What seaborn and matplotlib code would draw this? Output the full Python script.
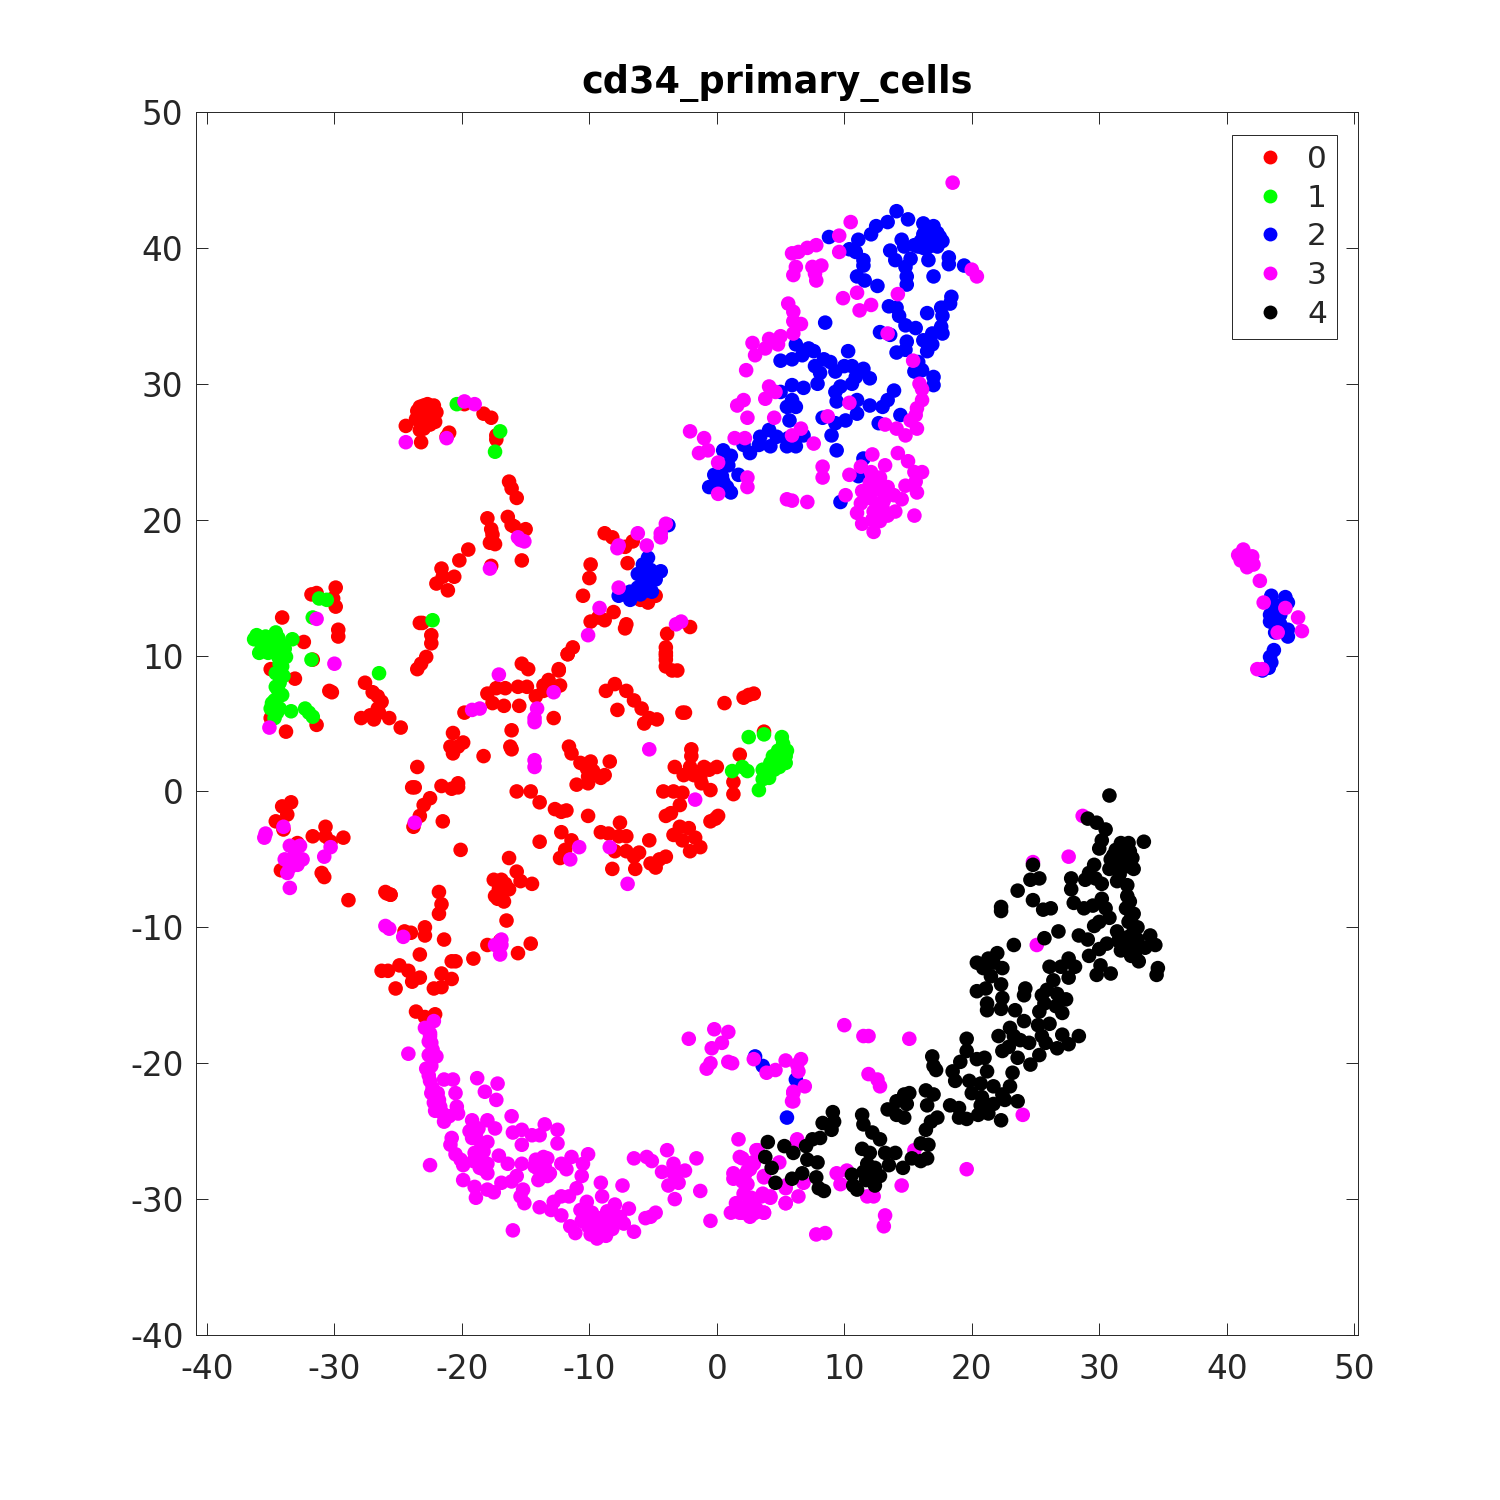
import pandas as pd
import matplotlib
matplotlib.use("Agg")
import matplotlib.pyplot as plt
import seaborn as sns

TITLE = "cd34_primary_cells"
X_TICKS = [-40, -30, -20, -10, 0, 10, 20, 30, 40, 50]
Y_TICKS = [-40, -30, -20, -10, 0, 10, 20, 30, 40, 50]
CLUSTER_COLORS = {"0": "#ff0000", "1": "#00ff00", "2": "#0000ff", "3": "#ff00ff", "4": "#000000"}

cluster_0 = [
    (-22.9,27.8),(-23.3,27.6),(-22.5,28.2),(-23.0,28.4),(-22.4,27.5),(-23.5,28.0),(-22.7,27.0),(-23.2,27.1),
    (-22.0,27.9),(-22.2,28.4),(-23.0,26.7),(-24.4,26.9),(-23.3,26.6),(-23.2,25.7),(-22.5,27.0),(-21.0,26.4),
    (-22.7,28.5),(-23.3,28.3),(-22.8,27.4),(-22.3,28.0),(-23.6,27.4),(-22.1,27.2),(-23.1,28.0),(-22.6,27.7),
    (-21.2,26.1),(-19.8,28.5),(-18.3,27.8),(-17.7,27.5),(-17.3,26.2),(-17.3,25.9),
    (-16.3,22.8),(-16.1,22.3),(-15.7,21.6),(-18.0,20.1),(-16.4,20.2),(-16.1,19.6),(-15.9,19.5),(-15.0,19.3),
    (-17.7,19.3),(-17.6,18.9),(-17.8,18.3),(-17.4,18.2),(-19.5,17.8),(-20.2,17.0),(-15.3,17.0),(-17.7,16.6),
    (-21.6,16.4),(-21.5,15.8),(-20.6,15.8),(-22.0,15.3),(-21.1,14.8),(-9.9,16.7),(-10.0,15.7),(-10.5,14.4),
    (-29.9,15.0),(-31.8,14.5),(-31.4,14.6),(-30.1,14.2),(-29.9,13.6),(-34.1,12.8),(-29.7,11.9),(-29.7,11.4),
    (-32.4,11.0),(-31.7,9.7),(-35.0,9.0),(-33.1,8.3),(-30.4,7.4),(-30.2,7.3),(-27.6,8.0),(-27.0,7.3),
    (-26.6,7.0),(-26.3,6.6),(-26.6,6.1),(-27.2,5.6),(-27.9,5.4),(-26.9,5.3),(-26.5,5.8),(-25.7,5.4),
    (-24.8,4.7),(-33.8,4.4),(-31.4,4.9),(-35.0,5.4),(-23.3,12.4),(-23.1,12.4),(-22.4,11.5),(-22.4,10.9),
    (-22.8,9.9),(-23.2,9.4),(-23.5,9.0),
    (-15.3,9.4),(-14.8,9.0),(-12.4,9.0),(-11.7,10.1),(-13.2,8.2),(-13.6,7.8),(-12.3,7.8),(-13.6,7.4),
    (-16.6,7.6),(-17.3,7.6),(-18.0,7.2),(-17.6,6.5),(-15.6,7.7),(-14.9,7.7),(-14.2,7.0),(-16.7,6.3),
    (-15.5,6.3),(-19.8,5.8),(-12.8,5.4),(-16.1,4.5),(-20.7,4.3),(-19.9,3.6),(-20.9,3.3),(-20.3,3.3),
    (-20.7,2.8),(-18.3,2.6),(-16.2,3.3),(-16.1,3.1),(-23.5,1.8),(-23.9,0.3),(-23.7,0.3),(-21.6,0.4),
    (-20.8,0.2),(-20.3,0.6),(-20.3,0.3),(-22.5,-0.5),(-23.0,-1.0),(-23.3,-1.8),(-23.8,-2.6),(-21.5,-2.2),
    (-20.1,-4.3),(-15.7,0.0),(-14.6,0.0),(-13.9,-0.8),(-12.7,-1.3),(-12.2,-1.5),(-11.8,-1.4),(-10.1,-1.8),
    (-11.6,3.3),(-11.4,2.8),(-10.7,2.1),(-9.9,2.2),(-10.2,1.7),(-9.7,1.5),(-8.4,2.2),(-10.1,1.1),
    (-11.0,0.5),(-10.1,0.6),(-9.1,1.0),(-8.8,1.2),(-8.7,7.4),(-8.0,7.9),(-7.1,7.4),(-6.5,6.7),
    (-5.9,6.1),(-7.8,6.0),(-5.7,5.0),(-5.3,5.4),(-4.7,5.3),(-2.7,5.8),(-2.5,5.8),(0.6,6.5),
    (2.1,6.9),(2.9,7.2),(2.5,7.1),(-4.0,10.2),(-4.0,9.2),(-3.1,8.9),(-4.0,9.7),(3.7,4.4),
    (-2.0,3.1),(-2.0,2.6),(-3.3,1.8),(-2.1,1.8),(-1.0,1.8),(0.0,1.8),(-2.6,1.2),(-1.8,1.2),
    (-1.3,1.0),(-0.6,1.6),(1.8,2.7),(1.3,0.7),(1.3,-0.2),(-0.5,0.1),(-1.2,0.6),(-4.2,0.0),
    (-3.4,0.0),(-2.7,-0.1),(-2.9,-1.0),(-3.6,-1.6),(-4.0,-1.8),(0.1,-1.8),(-0.5,-2.2),(-0.1,-2.0),
    (-2.9,-2.6),(-2.2,-2.7),(-3.4,-3.2),(-2.7,-3.6),(-1.7,-3.4),(-1.3,-4.1),(-2.1,-4.4),(-7.6,-2.3),
    (-9.1,-3.0),(-8.5,-3.1),(-7.7,-3.3),(-7.1,-3.3),(-5.3,-3.6),(-12.2,-3.0),(-11.4,-3.6),(-13.9,-3.7),
    (-11.9,-4.3),(-12.3,-4.9),(-8.0,-4.4),(-7.1,-4.4),(-6.1,-4.5),(-6.5,-4.8),(-6.4,-5.7),(-8.2,-5.7),
    (-5.2,-5.3),(-4.8,-5.6),(-4.0,-4.8),(-4.5,-5.0),(-16.3,-4.9),(-15.7,-5.9),(-15.4,-6.6),(-14.5,-6.8),
    (-17.5,-6.5),(-16.9,-6.5),(-16.3,-7.2),(-17.4,-7.7),(-16.7,-8.1),(-17.1,-7.2),(-16.5,-9.5),(-18.0,-11.3),
    (-16.8,-7.4),(-17.0,-6.9),(-16.6,-6.8),(-17.2,-7.9),
    (-17.0,-11.0),(-15.6,-11.9),(-14.6,-11.2),(-19.1,-12.3),(-20.8,-12.5),(-20.5,-12.5),(-21.8,-7.4),(-21.6,-8.3),
    (-21.8,-9.0),(-25.9,-7.5),(-25.6,-7.6),(-22.9,-10.0),(-22.9,-10.6),(-24.5,-10.3),(-24.0,-10.4),(-21.4,-10.9),
    (-23.3,-12.0),(-25.8,-13.2),(-24.9,-12.8),(-24.2,-13.2),(-23.3,-13.7),(-23.9,-14.0),(-25.2,-14.5),(-21.6,-13.4),
    (-20.8,-13.8),(-22.2,-14.5),(-21.6,-14.4),(-23.6,-16.2),(-22.9,-16.6),(-22.1,-16.4),(-26.3,-13.2),
    (-33.4,-0.8),(-34.1,-1.1),(-33.7,-1.7),(-34.6,-2.2),(-34.0,-2.8),(-32.9,-3.8),(-31.7,-3.3),(-30.7,-2.6),
    (-30.7,-3.3),(-29.3,-3.4),(-30.3,-3.7),(-34.2,-5.8),(-31.0,-6.0),(-30.8,-6.3),(-28.9,-8.0),(-26.0,-7.4),(-25.6,-7.6),
    (-8.8,19.0),(-8.2,18.7),(-7.2,18.0),(-6.6,18.4),(-7.0,16.8),(-8.1,13.2),(-9.3,12.8),(-9.9,12.5),
    (-8.8,12.6),(-7.1,12.3),(-7.2,12.0),(-11.3,10.6),(-11.7,10.1),(-12.4,8.9),(-3.9,11.6),(-4.0,10.6),
    (-4.0,10.0),(-3.5,8.9),(-2.1,12.1),(-6.0,14.1),(-5.4,13.9),(-4.8,14.4),
]
cluster_1 = [
    (-20.4,28.5),(-17.0,26.5),(-17.4,25.0),(-31.2,14.2),(-30.6,14.1),(-31.7,12.8),(-31.8,9.7),(-22.3,12.6),
    (-26.5,8.7),(-36.3,11.2),(-36.1,11.5),(-35.9,10.2),(-35.4,11.4),(-34.6,11.7),(-34.3,10.9),(-35.0,10.7),
    (-33.8,9.9),(-34.4,9.9),(-33.3,11.2),(-34.1,9.2),(-34.6,8.7),(-34.3,8.0),(-34.4,7.4),(-34.1,7.1),
    (-34.7,6.7),(-35.0,6.1),(-34.3,6.1),(-34.7,5.4),(-33.4,5.9),(-32.3,6.1),(-32.0,5.8),(-31.7,5.5),
    (-35.2,10.2),(-34.7,10.4),(-33.9,10.5),(-34.4,11.3),(-34.8,11.0),(-34.3,9.4),(-34.0,8.5),(-34.6,7.7),
    (-34.9,6.5),(-34.5,5.8),(-35.8,11.0),(-35.5,10.8),
    (2.5,4.0),(3.7,4.2),(5.1,4.0),(1.2,1.5),(2.0,1.8),(2.4,1.5),(3.3,0.1),(3.6,0.9),
    (4.1,1.0),(3.6,1.6),(4.2,2.1),(4.7,2.6),(5.1,3.1),(5.4,2.6),(4.9,1.8),(5.4,2.1),(4.5,1.6),(5.5,3.0),
    (4.4,2.6),(4.9,2.4),(5.2,3.5),(4.8,3.0),(3.9,1.4),(4.3,1.9),
]
cluster_2 = [
    (14.1,42.7),(15.0,42.1),(13.4,41.9),(12.5,41.6),(12.1,41.0),(11.1,40.6),(8.8,40.8),(16.2,41.8),
    (17.0,41.6),(16.5,41.1),(17.3,41.1),(16.0,40.5),(16.8,40.6),(17.7,40.5),(15.5,40.2),(14.5,40.6),
    (16.6,41.5),(17.1,40.9),(16.2,41.0),(16.9,40.2),(16.2,40.0),(17.5,40.8),(15.8,40.1),
    (14.7,40.1),(13.6,39.8),(16.5,40.0),(17.3,40.1),(18.2,39.3),(18.2,38.8),(16.6,39.1),(14.0,39.1),
    (15.2,39.2),(14.8,38.6),(14.9,37.9),(14.9,37.3),(17.0,37.9),(19.4,38.7),(10.4,39.9),(10.9,39.7),
    (11.5,39.1),(11.5,38.7),(11.0,37.9),(11.6,37.6),(12.6,37.2),(18.4,36.4),(18.3,35.9),(17.6,35.6),
    (17.7,35.0),(16.5,35.2),(13.5,35.7),(14.1,35.6),(14.3,35.0),(14.8,34.3),(15.6,34.1),(17.6,34.2),
    (17.7,33.7),(16.9,33.7),(16.2,33.2),(16.9,32.9),(16.5,32.4),(14.9,33.1),(14.8,32.5),(14.1,32.3),
    (12.8,33.8),(13.6,33.6),(8.5,34.5),(15.8,31.6),(16.1,31.0),(15.5,30.9),(17.0,30.5),(17.0,29.9),
    (6.2,32.9),(7.2,32.6),(7.6,32.4),(5.9,31.8),(5.0,31.7),(6.7,32.1),(10.3,32.4),(8.4,31.8),
    (7.7,31.3),(8.9,31.6),(8.1,30.8),(9.3,30.9),(10.0,31.3),(10.6,31.3),(11.5,31.1),(12.0,30.4),
    (10.9,30.5),(10.6,30.0),(7.9,30.0),(6.8,29.7),(5.9,29.9),(5.0,29.4),(9.7,29.8),(9.3,29.4),
    (9.4,28.7),(13.9,29.5),(13.4,28.8),(13.0,28.3),(5.9,28.8),(5.5,28.3),(6.2,28.3),(11.0,28.8),
    (12.0,28.4),(11.0,27.8),(14.4,27.7),(12.7,27.1),(5.7,27.3),(8.3,27.5),(9.3,27.1),(10.1,27.3),
    (9.0,26.2),(9.4,25.1),(4.1,26.6),(3.4,26.1),(4.7,26.1),(4.2,25.4),(2.6,24.9),(2.1,25.5),
    (3.3,25.5),(5.5,25.4),(6.2,25.4),(6.8,26.2),(5.6,26.0),(11.5,24.5),(11.1,23.2),(9.7,21.3),
    (0.5,25.1),(1.1,24.7),(0.9,24.0),(1.7,23.3),(-0.2,23.3),(0.4,23.2),(-0.6,22.4),(0.8,22.4),
    (0.5,22.8),(1.1,22.0),(0.0,22.3),
    (-3.8,19.6),(-7.7,14.4),(-6.8,14.1),(-5.4,17.2),(-5.8,16.7),(-5.2,16.3),(-4.4,16.2),(-6.2,16.0),
    (-5.6,15.6),(-4.8,15.6),(-6.2,15.0),(-5.5,14.8),(-5.1,14.7),(-6.8,14.7),(-6.0,14.5),
    (43.5,14.4),(44.6,14.3),(43.8,13.7),(44.8,13.9),(43.4,13.0),(44.2,13.0),(43.4,12.5),(44.2,12.3),
    (44.8,11.9),(44.8,11.4),(43.8,11.7),(43.7,10.4),(43.4,9.9),(43.5,9.5),(43.3,9.1),(42.8,8.9),
    (3.0,-19.5),(3.6,-20.2),(6.2,-21.2),(5.5,-24.0),
]
cluster_3 = [
    (-24.4,25.7),(-21.2,26.0),(-19.8,28.7),(-19.0,28.5),(-17.8,16.4),(-15.6,18.7),(-15.1,18.4),(-15.4,18.5),
    (-31.4,12.7),(-30.0,9.4),(-35.1,4.7),(-17.1,8.6),(-19.2,6.0),(-18.6,6.1),(-12.8,7.3),(-14.1,6.1),
    (-14.3,5.4),(-14.3,5.1),(-14.3,2.3),(-14.3,1.8),(-5.3,3.1),(-1.7,-0.6),(-23.7,-2.3),(-10.8,-4.1),
    (-11.5,-5.0),(-8.4,-4.1),(-7.0,-6.8),(-26.0,-9.9),(-25.7,-10.1),(-24.6,-10.7),(-17.4,-11.3),(-16.9,-11.3),
    (-17.0,-12.0),(-16.9,-10.9),
    (-35.4,-3.1),(-35.5,-3.4),(-34.0,-2.6),(-33.5,-4.0),(-32.7,-4.0),(-33.1,-4.7),(-33.9,-5.0),(-32.5,-5.0),
    (-33.5,-5.6),(-32.9,-5.4),(-33.7,-6.0),(-33.5,-7.1),(-30.8,-4.8),(-30.3,-4.1),
    (-6.2,19.0),(-7.7,18.1),(-7.8,17.9),(-5.5,18.1),(-4.4,18.7),(-4.0,19.7),(-4.4,19.0),(-7.7,15.0),
    (-9.2,13.5),(-10.1,11.5),(-3.2,12.3),(-2.8,12.5),
    (18.5,44.8),(10.5,41.9),(9.6,40.9),(9.6,39.7),(5.9,39.6),(6.4,39.7),(7.1,40.0),(7.8,40.2),
    (6.2,38.6),(6.0,38.0),(7.5,38.6),(8.2,38.7),(7.8,37.6),(7.7,38.1),(20.0,38.4),(20.4,37.9),
    (14.2,36.6),(11.0,36.7),(9.9,36.3),(12.1,35.8),(11.2,35.4),(5.6,35.9),(6.0,35.3),(6.6,34.4),
    (6.0,34.6),(6.0,33.7),(5.0,33.5),(4.1,33.3),(4.8,32.9),(2.8,33.0),(3.8,32.6),(3.0,32.1),
    (2.3,31.0),(13.4,33.7),(15.4,31.7),(15.9,30.0),(16.1,29.6),(16.1,28.8),(15.7,28.2),(15.6,27.7),
    (15.2,27.3),(15.7,26.7),(13.2,27.0),(14.1,26.7),(14.8,26.2),(4.1,29.8),(4.6,29.4),(3.8,28.9),
    (2.1,28.8),(1.6,28.4),(10.4,28.6),(2.4,27.5),(4.5,27.5),(8.7,27.6),(-2.1,26.5),(-1.0,26.0),
    (-1.4,24.9),(-0.7,25.1),(1.4,26.0),(2.2,26.0),(5.9,26.2),(6.6,26.7),(7.6,25.6),(0.1,24.2),
    (2.4,23.1),(2.4,22.4),(0.1,21.9),(5.5,21.5),(5.9,21.4),(7.1,21.3),(8.3,23.9),(8.3,23.1),
    (10.4,23.3),(10.1,21.8),(12.2,24.8),(14.2,24.9),(15.0,24.3),(13.2,24.0),(11.3,23.9),(12.1,23.5),
    (16.1,23.5),(15.5,23.5),(12.8,23.1),(15.6,22.8),(14.8,22.5),(13.4,22.4),(15.7,22.0),(11.4,22.1),
    (12.2,22.1),(13.0,22.1),(13.9,21.8),(14.5,21.5),(11.3,21.2),(12.5,21.2),(11.0,20.5),(12.3,20.6),
    (14.0,20.6),(13.4,20.3),(15.5,20.3),(11.4,19.7),(12.8,19.9),(12.3,19.1),
    (12.0,22.7),(12.7,22.5),(11.9,21.6),(13.1,21.4),(12.2,20.0),(13.0,20.9),
    (40.9,17.4),(41.3,17.8),(41.1,17.0),(41.9,17.0),(41.6,16.5),(42.1,16.7),(42.0,17.3),(42.6,15.5),
    (42.9,13.9),(44.6,13.5),(45.6,12.8),(45.9,11.8),(44.0,11.7),(42.4,9.0),(42.8,9.0),
    (-22.2,-16.9),(-22.9,-17.4),(-22.5,-17.8),(-22.4,-18.5),(-22.6,-18.4),(-24.2,-19.3),(-22.6,-19.4),(-22.0,-19.5),
    (-22.8,-20.4),(-22.4,-20.2),(-22.5,-21.3),(-22.4,-22.2),(-22.2,-22.9),(-22.1,-23.5),(-21.4,-21.2),(-20.7,-21.2),
    (-20.5,-22.2),(-21.8,-22.7),(-20.4,-23.2),(-20.3,-23.7),(-21.4,-24.3),(-21.0,-23.9),(-21.7,-23.2),
    (-22.6,-20.9),(-22.3,-21.8),(-21.9,-22.2),(-21.5,-23.7),(-22.5,-18.0),(-22.3,-19.0),
    (-18.8,-21.1),(-17.2,-21.5),(-18.2,-22.1),(-17.3,-22.7),(-16.1,-23.9),(-13.5,-24.5),(-12.5,-24.9),(-16.0,-25.1),
    (-15.3,-24.9),(-14.5,-25.3),(-13.9,-25.3),(-15.3,-26.0),(-12.5,-25.9),(-19.2,-24.2),(-18.0,-24.2),(-17.4,-24.8),
    (-19.4,-25.0),(-18.7,-24.8),(-20.8,-25.5),(-20.9,-26.0),(-18.0,-25.8),(-19.2,-25.5),(-20.5,-26.7),(-20.1,-27.1),
    (-19.9,-27.5),(-19.0,-26.6),(-18.3,-26.5),(-18.6,-27.1),(-18.0,-27.4),(-18.6,-27.7),(-18.0,-28.1),(-17.1,-26.8),
    (-18.5,-25.9),(-18.9,-25.2),(-18.4,-26.0),(-19.1,-27.2),(-18.3,-27.8),(-13.8,-27.4),(-13.3,-27.0),(-14.3,-27.6),
    (-16.4,-27.4),(-22.5,-27.5),(-19.9,-28.6),(-19.0,-29.1),(-18.9,-29.9),(-18.0,-29.3),(-17.5,-29.5),(-16.9,-28.8),
    (-16.1,-28.7),(-15.7,-28.3),(-15.3,-27.4),(-15.2,-29.3),(-15.4,-29.8),(-15.1,-30.3),(-16.0,-32.3),
    (-14.2,-27.1),(-13.6,-26.9),(-14.0,-27.8),(-13.5,-27.6),(-13.1,-28.1),(-14.0,-28.6),(-13.3,-28.3),(-12.2,-27.4),
    (-11.4,-26.9),(-11.8,-27.8),(-10.1,-26.7),(-10.5,-27.4),(-10.6,-28.3),(-11.0,-29.2),(-11.6,-29.8),(-12.2,-29.8),
    (-12.8,-30.2),(-13.9,-30.6),(-13.0,-30.8),(-12.2,-31.2),(-9.1,-28.8),(-7.4,-29.0),(-9.0,-29.8),(-10.2,-30.2),
    (-10.7,-30.8),(-9.8,-31.0),(-8.6,-30.9),(-8.0,-30.4),(-6.9,-30.7),(-7.6,-31.3),(-11.5,-32.0),(-11.1,-32.5),
    (-10.6,-31.6),(-9.7,-31.8),(-8.9,-31.8),(-8.1,-31.8),(-7.3,-31.8),(-9.9,-32.6),(-9.4,-32.9),(-8.7,-32.7),
    (-9.3,-31.4),(-8.4,-31.2),(-10.1,-32.0),(-9.0,-32.4),
    (-8.2,-32.2),(-9.4,-32.2),(-6.5,-32.4),(-5.6,-31.4),(-4.8,-31.0),(-5.2,-31.3),(-6.5,-27.0),(-5.5,-26.9),
    (-5.1,-27.2),(-3.9,-26.4),(-3.4,-27.4),(-4.3,-28.0),(-2.5,-27.9),(-3.4,-28.1),(-3.8,-29.0),(-3.0,-28.8),
    (-1.6,-27.0),(-3.3,-30.0),(-1.3,-29.4),(-0.5,-31.6),(-2.2,-18.2),(-0.2,-17.5),(0.9,-17.7),(0.4,-18.5),
    (-0.4,-18.9),(-0.5,-20.0),(-0.8,-20.4),(0.9,-19.9),(1.2,-20.0),(2.9,-19.7),(3.9,-20.7),(4.6,-20.5),
    (5.4,-19.8),(6.0,-22.1),(6.0,-22.8),(6.3,-20.1),(1.7,-25.6),(3.2,-26.4),(2.0,-27.0),(2.8,-27.3),
    (1.3,-28.1),(2.2,-28.2),(1.3,-28.5),(2.0,-28.7),(2.1,-29.6),(3.7,-28.4),(3.6,-29.6),(4.2,-29.9),
    (1.5,-30.3),(1.1,-31.0),(2.0,-31.0),(2.8,-31.1),(3.7,-31.0),(2.5,-30.4),(4.9,-27.3),(5.4,-29.2),
    (2.4,-28.9),(2.7,-29.9),(2.2,-30.6),(3.1,-30.7),(2.6,-27.8),
    (5.4,-30.3),(6.3,-25.7),
    (28.7,-1.8),(24.8,-5.2),(27.6,-4.8),(25.1,-11.3),(24.0,-23.8),(19.6,-27.8),(14.5,-29.0),(10.0,-17.2),
    (11.5,-18.0),(11.9,-18.0),(15.1,-18.2),(11.9,-20.8),(12.6,-21.2),(12.8,-21.7),(6.6,-19.7),(6.4,-20.6),
    (6.9,-21.7),(6.0,-22.2),(5.9,-22.8),(6.3,-25.6),(5.4,-29.0),(6.4,-29.8),(5.4,-30.3),(6.8,-28.8),
    (9.4,-28.1),(10.2,-27.9),(9.7,-28.9),(11.8,-29.8),(12.3,-29.8),(13.2,-31.2),(13.1,-32.0),(7.8,-32.6),
    (8.5,-32.5),(15.5,-26.4),(3.1,-26.4),(3.7,-28.3),(3.5,-29.8),(4.2,-29.8),(3.0,-31.0),(3.7,-31.0),
    (2.6,-31.3),(1.8,-31.0),(2.4,-27.9),(1.8,-26.9),(2.9,-27.4),
]
cluster_4 = [
    (30.8,-0.3),(29.1,-2.0),(29.8,-2.3),(30.5,-2.8),(30.2,-3.6),(30.0,-4.2),(33.5,-3.7),(31.7,-3.8),
    (32.3,-3.8),(31.3,-4.3),(32.1,-4.4),(32.6,-4.9),(30.9,-5.0),(31.7,-5.2),(32.7,-5.7),(30.8,-5.7),
    (31.6,-6.1),(29.6,-5.4),(29.2,-6.0),(28.9,-6.5),(30.2,-6.8),(29.7,-6.4),(32.2,-6.9),(32.2,-7.7),
    (31.5,-4.6),(32.0,-4.9),(31.2,-5.4),(32.2,-5.5),(31.4,-6.6),(31.9,-4.1),(32.4,-4.4),(31.1,-4.7),
    (32.1,-8.6),(32.7,-9.0),(32.3,-9.6),(33.0,-10.0),(31.4,-10.3),(32.3,-10.7),(33.0,-10.9),(31.7,-11.7),
    (32.4,-8.1),(32.5,-9.3),(32.7,-10.3),(31.8,-10.9),(32.6,-11.3),(32.1,-11.2),(31.5,-11.0),(32.9,-11.7),
    (32.5,-12.1),(33.1,-12.5),(34.0,-10.6),(34.4,-11.3),(33.6,-11.5),(34.6,-13.0),(34.5,-13.5),(27.8,-6.4),
    (27.8,-7.2),(28.0,-8.2),(28.8,-8.6),(29.5,-8.4),(30.2,-7.9),(30.5,-8.6),(30.8,-9.3),(30.0,-9.6),
    (29.6,-9.9),(28.4,-10.6),(29.1,-10.9),(30.6,-11.2),(30.0,-11.6),(29.2,-12.1),(27.6,-12.3),(28.1,-12.9),
    (30.1,-12.8),(29.8,-13.5),(30.9,-13.4),(24.8,-5.4),(24.6,-6.5),(25.3,-6.4),(23.6,-7.3),(24.8,-8.0),
    (22.3,-8.5),(22.3,-8.8),(25.6,-8.7),(26.2,-8.6),(26.8,-10.3),(25.7,-10.8),(23.3,-11.3),(22.0,-11.9),
    (21.3,-12.3),(20.4,-12.6),(20.9,-13.0),(21.7,-12.6),(22.4,-13.0),(21.5,-13.6),(22.3,-14.2),(21.1,-14.5),
    (20.4,-14.7),(22.4,-15.2),(21.2,-15.6),(21.2,-16.1),(22.3,-16.0),(24.2,-14.5),(24.1,-15.0),(26.1,-12.9),
    (27.0,-12.9),(27.6,-13.7),(26.4,-13.9),(25.9,-14.6),(25.5,-15.0),(26.7,-14.9),(27.4,-15.3),(25.7,-15.6),
    (26.6,-15.8),(25.3,-16.2),(27.1,-16.3),(23.4,-16.1),(24.1,-16.9),(26.1,-17.1),(25.2,-17.2),(25.5,-18.0),
    (27.1,-17.9),(28.4,-18.0),(27.6,-18.6),(26.7,-18.9),(25.8,-18.5),(25.3,-19.4),(24.6,-20.1),(23.0,-17.4),
    (22.1,-18.0),(23.3,-18.0),(24.5,-18.5),(23.8,-18.3),(22.4,-19.1),(23.6,-19.6),(22.9,-18.8),(19.6,-18.2),
    (19.6,-19.1),(16.9,-19.5),(17.0,-20.2),(17.2,-20.5),(19.1,-19.9),(20.4,-19.7),(21.0,-19.6),(21.2,-20.6),
    (18.5,-20.6),(23.2,-20.7),(18.7,-21.3),(19.8,-21.3),(20.7,-21.5),(21.7,-21.7),(23.0,-21.7),(20.0,-22.2),
    (20.8,-22.5),(22.4,-22.3),(23.6,-22.8),(21.7,-23.0),(22.6,-22.7),(20.7,-23.1),(18.3,-23.1),(19.0,-23.3),
    (19.0,-24.0),(19.6,-24.1),(20.5,-23.8),(21.3,-23.7),(22.3,-24.2),(16.4,-22.0),(17.0,-22.3),(16.5,-23.1),
    (17.3,-24.0),(16.8,-24.3),(15.1,-22.2),(14.7,-22.3),(14.9,-23.0),(14.1,-22.8),(13.4,-23.4),(14.1,-23.8),
    (14.7,-24.0),(16.4,-24.9),(16.6,-26.0),(16.0,-25.9),(16.5,-27.0),(16.0,-27.2),(15.3,-27.0),(14.6,-27.7),
    (14.0,-26.6),(13.5,-27.5),(13.2,-26.6),(12.8,-25.6),(12.2,-25.1),(11.4,-23.8),(11.5,-24.5),(11.4,-26.3),
    (12.0,-26.6),(11.8,-27.4),(12.4,-27.7),(12.8,-28.3),(12.2,-28.5),(12.4,-29.0),(11.5,-28.0),(10.6,-28.2),
    (10.7,-29.0),(11.0,-29.3),(11.7,-28.6),(9.1,-23.6),(8.3,-24.4),(9.2,-24.3),(9.0,-24.9),(8.1,-25.5),
    (7.5,-25.6),(7.0,-26.1),(6.0,-26.6),(5.3,-26.1),(4.0,-25.8),(3.8,-26.9),(4.3,-27.7),(4.6,-28.8),
    (7.1,-27.1),(7.9,-27.3),(6.7,-28.1),(5.9,-28.5),(7.8,-28.4),(8.0,-29.2),(8.4,-29.4),
]

CLUSTERS = {"0": cluster_0, "1": cluster_1, "2": cluster_2, "3": cluster_3, "4": cluster_4}

# gscatter-style draw order: later clusters sit on top
frames = [pd.DataFrame(pts, columns=["x", "y"]).assign(label=name) for name, pts in CLUSTERS.items()]
df = pd.concat(frames, ignore_index=True)

sns.set_theme(style="white", rc={
    "axes.edgecolor": "#262626",
    "axes.linewidth": 0.7,
    "axes.unicode_minus": False,
    "xtick.color": "#262626",
    "ytick.color": "#262626",
    "text.color": "#262626",
})
plt.rcParams["font.family"] = ["DejaVu Sans"]

fig = plt.figure(figsize=(15, 15), dpi=100, facecolor="white")
ax = fig.add_axes([196 / 1500, 165 / 1500, 1162 / 1500, 1223 / 1500])

sns.scatterplot(data=df, x="x", y="y", hue="label", palette=CLUSTER_COLORS,
                s=110, linewidth=0, alpha=1, ax=ax, legend="full")

ax.set_xlim(-40.86, 50.3)
ax.set_ylim(-40, 50)
ax.set_xticks(X_TICKS)
ax.set_yticks(Y_TICKS)
ax.set_xlabel("")
ax.set_ylabel("")
ax.tick_params(direction="in", length=8.5, width=0.7, top=True, right=True,
               bottom=True, left=True, labelsize=23.5)
ax.tick_params(axis="x", pad=13)
ax.tick_params(axis="y", pad=9)
ax.set_title(TITLE, fontsize=26.4, fontweight="bold", color="black", pad=14)

handles, labels = ax.get_legend_handles_labels()
for h in handles:
    h.set_markersize(10)
leg = ax.legend(handles, labels, loc="upper right", bbox_to_anchor=(0.9819, 0.9812),
                fontsize=22.5, frameon=True, fancybox=False, framealpha=1,
                edgecolor="#262626", borderaxespad=0, borderpad=0.32,
                labelspacing=0.31, handlelength=1.8, handletextpad=0.29, title=None)
leg.get_frame().set_linewidth(0.7)

fig.savefig("out.png", dpi=100)
